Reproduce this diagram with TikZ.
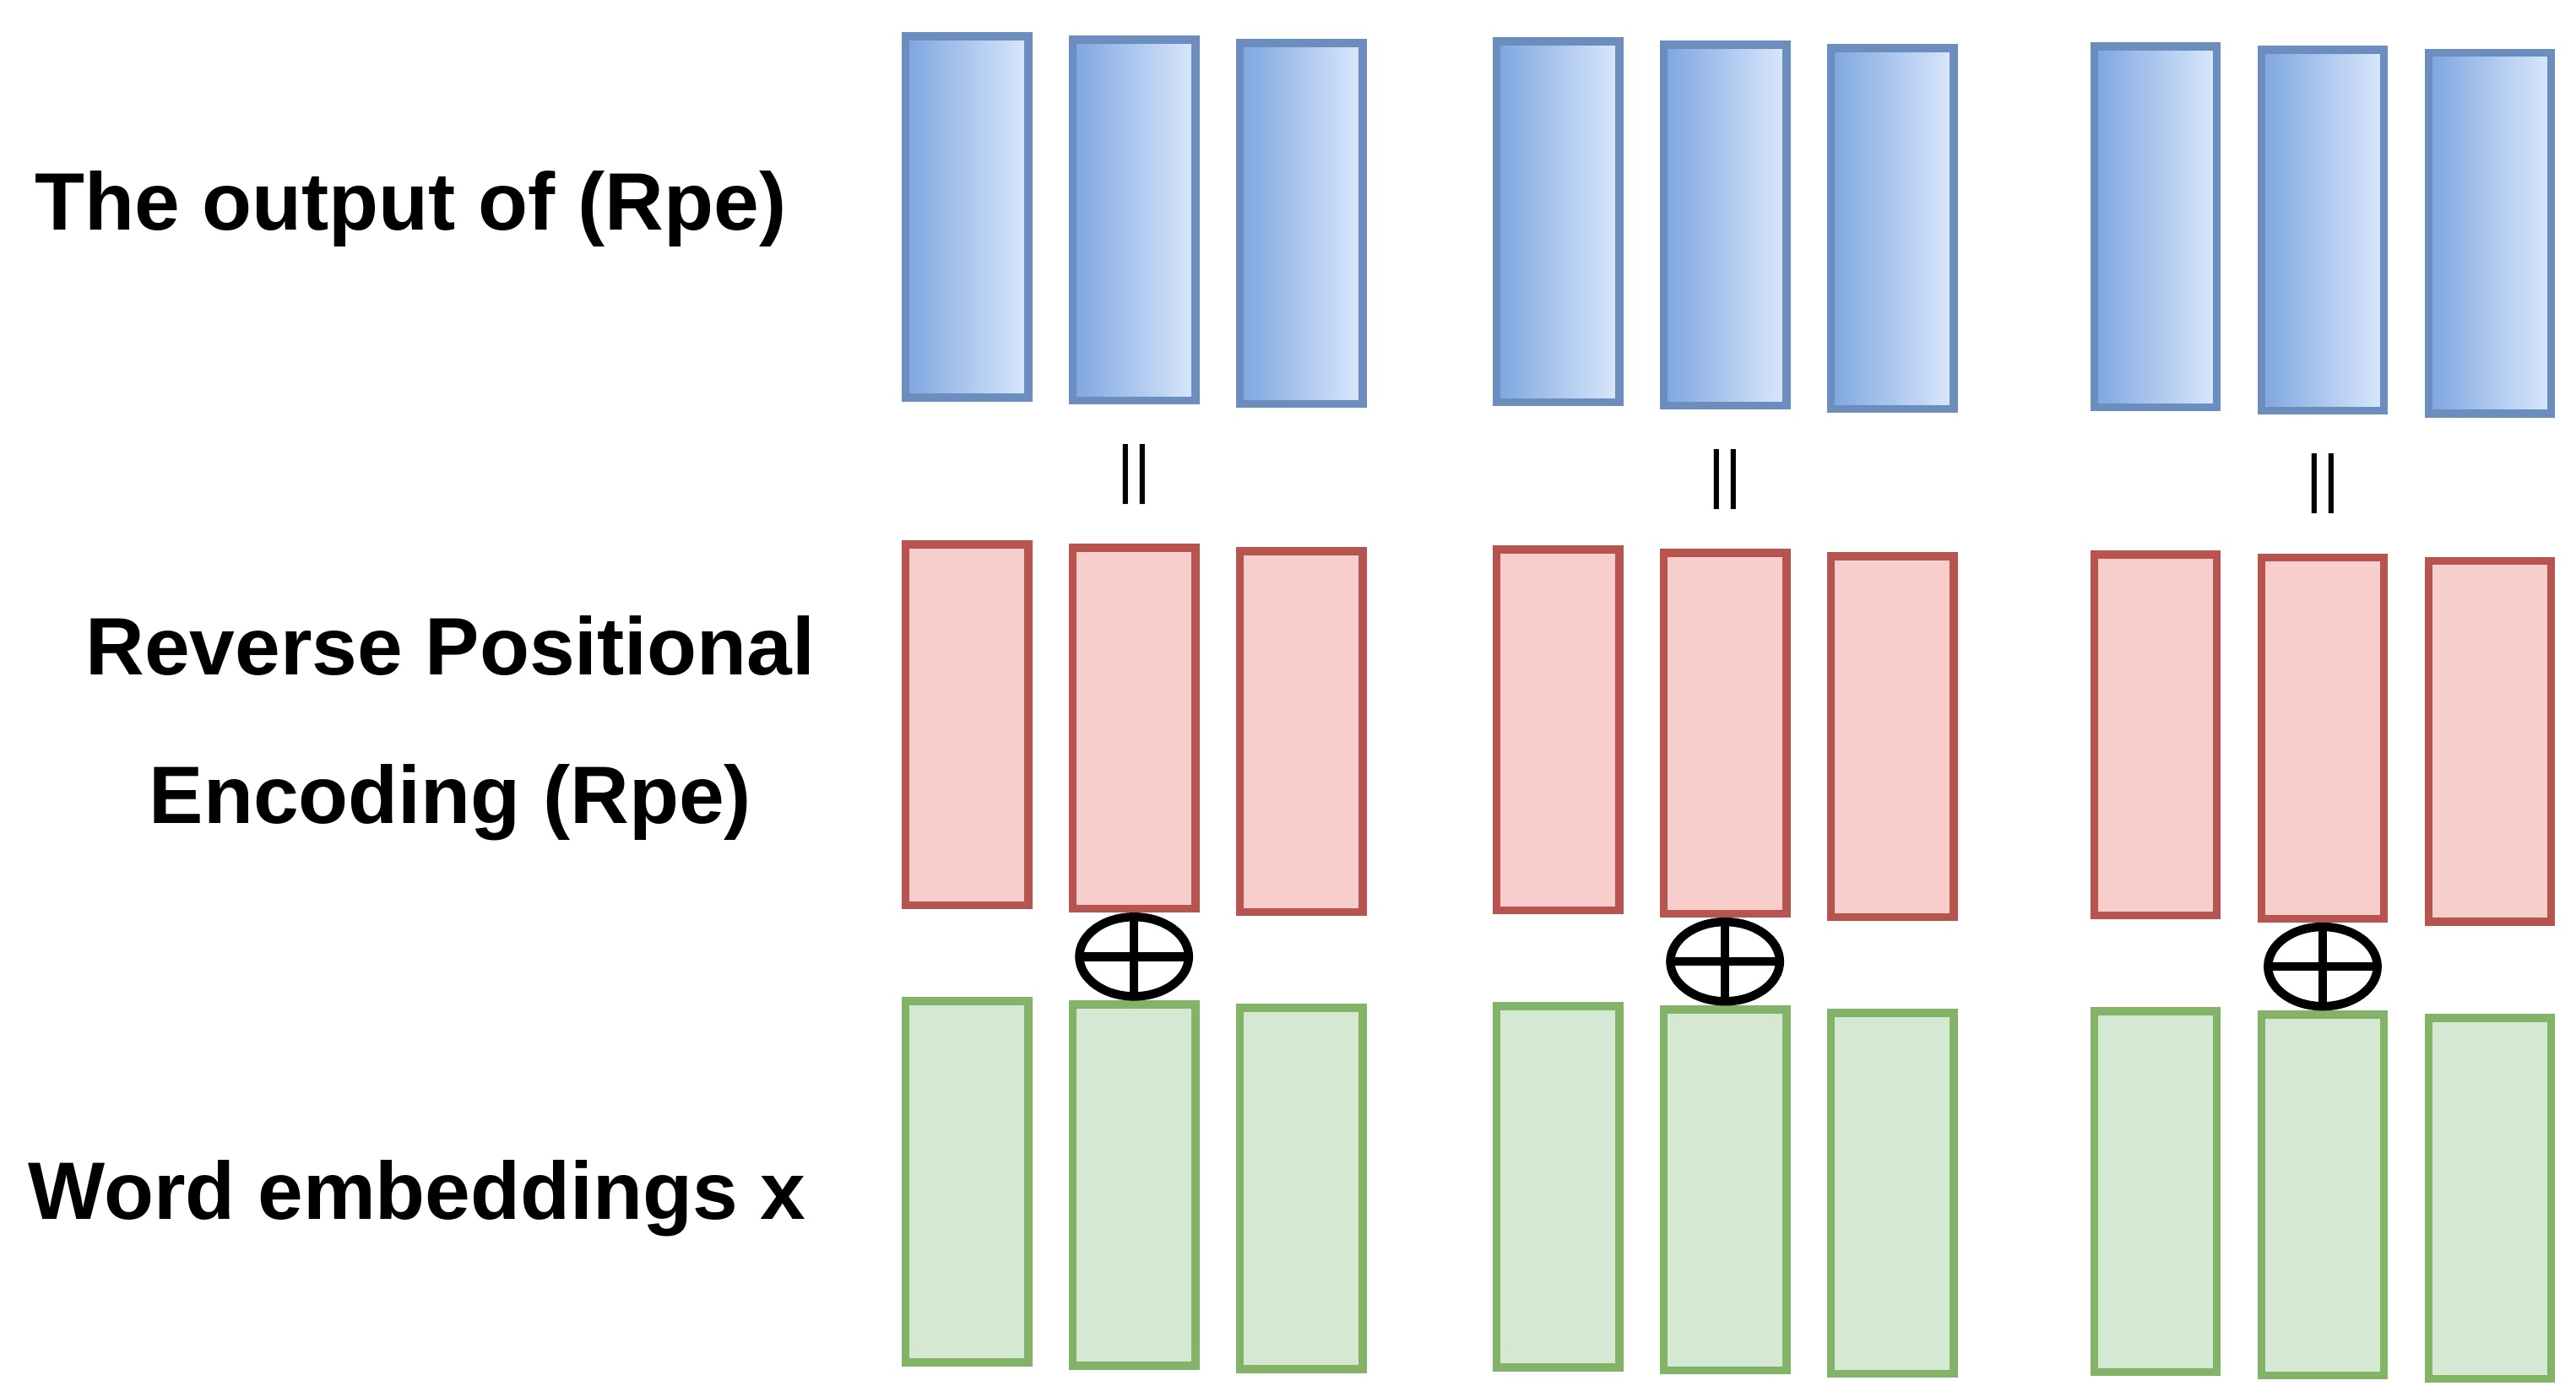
\documentclass[tikz,border=0pt]{standalone}
\usepackage{fontspec}
\setmainfont{Liberation Sans}
\usetikzlibrary{positioning,calc}
\definecolor{bluebd}{HTML}{6C8EBF}
\definecolor{bluedk}{HTML}{7EA6E0}
\definecolor{bluelt}{HTML}{DAE8FC}
\definecolor{redbd}{HTML}{B85450}
\definecolor{redfl}{HTML}{F8CECC}
\definecolor{greenbd}{HTML}{82B366}
\definecolor{greenfl}{HTML}{D5E8D4}
\tikzset{
  bar/.style={draw, line width=1.4pt, minimum width=0.74cm, minimum height=2.18cm, inner sep=0pt},
  outbar/.style={bar, draw=bluebd, left color=bluedk, right color=bluelt},
  rpebar/.style={bar, draw=redbd, fill=redfl},
  wordbar/.style={bar, draw=greenbd, fill=greenfl},
  lbl/.style={font=\bfseries\fontsize{14}{17}\selectfont, align=center}
}
\begin{document}
\begin{tikzpicture}[x=0.01cm, y=-0.01cm]
	\useasboundingbox (0,0) rectangle (1556,837);
	% labels
	\node[lbl] (out) at (248,126) {The output of (Rpe)};
	\node[lbl] (rpe) at (272,440) {Reverse Positional\\[0.3cm]Encoding (Rpe)};
	\node[lbl] (word) at (252,724) {Word embeddings x};
	% three groups of bars
	\foreach \g/\gx/\gy in {1/545/0, 2/902/3, 3/1263/6} {
		\foreach \b in {0,1,2} {
			\pgfmathsetmacro{\bx}{\gx+39+101*\b}
			\pgfmathsetmacro{\by}{\gy+2*\b}
			\node[outbar] (o\g\b) at (\bx,131+\by) {};
			\node[rpebar] (r\g\b) at (\bx,438+\by) {};
			\node[wordbar] (w\g\b) at (\bx,714+\by) {};
		}
		\node[font=\fontsize{11}{11}\selectfont] (eq\g) at ($(o\g1.south)!0.5!(r\g1.north)$) {||};
		\coordinate (p\g) at ($(r\g1.south)!0.5!(w\g1.north)$);
		\draw[line width=1.5pt] (p\g) ellipse[x radius=0.33cm, y radius=0.24cm];
		\draw[line width=1.5pt] ($(p\g)+(-33,0)$) -- ($(p\g)+(33,0)$);
		\draw[line width=1.5pt] ($(p\g)+(0,-24)$) -- ($(p\g)+(0,24)$);
	}
\end{tikzpicture}
\end{document}
